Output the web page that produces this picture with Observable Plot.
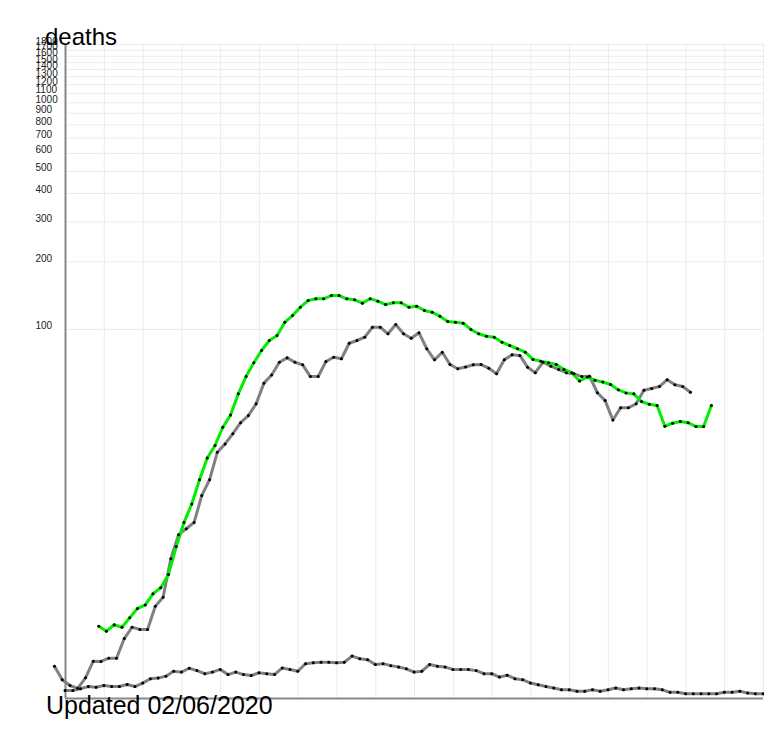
<!DOCTYPE html>
<html>
<head>
<meta charset="utf-8">
<script src="https://cdn.jsdelivr.net/npm/d3@7"></script>
<script src="https://cdn.jsdelivr.net/npm/@observablehq/plot@0.6"></script>
<style>
  html, body { margin: 0; padding: 0; background: #fff; }
  #chart { position: relative; width: 764px; height: 741px; }
</style>
</head>
<body>
<div id="chart"></div>
<script>
// y-axis tick labels
const yTicks = [100, 200, 300, 400, 500, 600, 700, 800, 900, 1000, 1100, 1200, 1300, 1400, 1500, 1600, 1700, 1800];

// series starting day (relative to the axis origin)
const seriesStart = { green: 4.28, greyA: -1.42, greyB: -0.05 };

// green series (daily values)
const greenValues = [
  2.67, 2.42, 2.75, 2.62, 3.13,
  3.68, 3.91, 4.67, 5.12, 6.21, 9.04, 12.2, 15.2, 20.1, 25.6,
  29.4, 35.8, 40.8, 51.1, 61.3, 70.8, 80.4, 89.2, 93.9, 107.7,
  115.4, 125.7, 134.6, 137.0, 137.0, 141.7, 141.7, 137.0, 135.6, 131.0,
  137.0, 133.7, 129.2, 131.5, 131.5, 125.7, 127.0, 121.5, 119.4, 114.6,
  108.5, 107.7, 106.6, 100.0, 95.6, 93.2, 92.3, 87.7, 84.7, 81.9,
  79.0, 73.3, 72.0, 70.8, 69.5, 66.0, 63.8, 58.5, 61.0, 59.0,
  57.9, 56.4, 53.3, 51.6, 51.1, 47.1, 45.8, 45.2, 36.2, 37.4,
  38.1, 37.6, 36.1, 36.1, 45.2
];

// first grey series
const greyAValues = [
  0.96, 0.52, 0.35, 0.27, 0.58, 1.14, 1.13, 1.25, 1.25, 2.07,
  2.62, 2.51, 2.51, 3.83, 4.43, 7.70, 10.5, 11.3, 12.2, 16.8,
  20.1, 27.3, 29.9, 33.4, 37.6, 40.6, 46.0, 57.2, 62.3, 71.2,
  74.5, 71.2, 69.3, 61.3, 61.3, 71.7, 75.0, 73.8, 86.7, 89.2,
  92.3, 102.3, 102.3, 95.6, 105.2, 95.6, 91.3, 96.6, 81.9, 73.0,
  79.0, 69.5, 66.5, 67.7, 69.3, 69.5, 66.9, 63.1, 73.0, 76.9,
  76.4, 67.6, 63.8, 71.2, 68.3, 66.0, 63.8, 63.1, 61.3, 61.5,
  51.7, 47.6, 38.7, 44.1, 44.1, 46.0, 53.1, 54.1, 55.2, 59.3,
  56.2, 55.2, 52.0
];

// second grey series (low values)
const greyBValues = [
  0.21, 0.21, 0.26, 0.32, 0.30, 0.35, 0.32, 0.32, 0.38, 0.32,
  0.42, 0.55, 0.57, 0.63, 0.79, 0.76, 0.89, 0.81, 0.71, 0.76,
  0.85, 0.68, 0.76, 0.68, 0.65, 0.74, 0.71, 0.68, 0.90, 0.85,
  0.79, 1.05, 1.08, 1.10, 1.10, 1.08, 1.10, 1.33, 1.23, 1.19,
  1.02, 1.05, 0.98, 0.93, 0.87, 0.76, 0.79, 1.02, 0.96, 0.93,
  0.85, 0.85, 0.85, 0.81, 0.71, 0.71, 0.60, 0.66, 0.55, 0.52,
  0.42, 0.37, 0.32, 0.28, 0.23, 0.23, 0.19, 0.19, 0.23, 0.19,
  0.23, 0.28, 0.23, 0.26, 0.28, 0.26, 0.26, 0.23, 0.16, 0.16,
  0.12, 0.12, 0.12, 0.12, 0.12, 0.16, 0.16, 0.19, 0.14, 0.12, 0.12
];

const toRows = (name, values) => values.map((v, i) => ({ series: name, day: seriesStart[name] + i, value: v }));
const green = toRows("green", greenValues);
const greyA = toRows("greyA", greyAValues);
const greyB = toRows("greyB", greyBValues);
const all = [...greyB, ...greyA, ...green];

const W = 764, H = 741;
const chart = Plot.plot({
  width: W,
  height: H,
  marginLeft: 65,
  marginRight: 1,
  marginTop: 44,
  marginBottom: 43,
  style: { fontFamily: "'Liberation Sans', Arial, sans-serif", background: "#fff" },
  x: { domain: [0, 90], axis: null },
  y: { type: "symlog", constant: 2.5, domain: [0, 1800], axis: null },
  marks: [
    Plot.gridX(d3.range(0, 91, 5), { stroke: "#ebebeb", strokeOpacity: 1 }),
    Plot.gridY(yTicks, { stroke: "#ebebeb", strokeOpacity: 1 }),
    Plot.ruleX([0], { stroke: "#888", strokeWidth: 2 }),
    Plot.ruleY([0], { stroke: "#888", strokeWidth: 2 }),
    Plot.text(yTicks, {
      y: d => d, text: d => String(d), frameAnchor: "left", dx: -30,
      textAnchor: "start", lineAnchor: "bottom", fontSize: 10, fill: "#222"
    }),
    Plot.line(greyB, { x: "day", y: "value", stroke: "#808080", strokeWidth: 3 }),
    Plot.line(greyA, { x: "day", y: "value", stroke: "#808080", strokeWidth: 3 }),
    Plot.line(green, { x: "day", y: "value", stroke: "#00ee00", strokeWidth: 3 }),
    Plot.dot(all, { x: "day", y: "value", r: 1.5, fill: "#000", stroke: "none" })
  ]
});

const svg = d3.select(chart);
svg.append("text")
  .attr("x", 45).attr("y", 45)
  .attr("text-anchor", "start")
  .attr("font-size", 24).attr("fill", "#000")
  .attr("font-family", "'Liberation Sans', Arial, sans-serif")
  .text("deaths");
svg.append("text")
  .attr("x", 46).attr("y", 714)
  .attr("text-anchor", "start")
  .attr("font-size", 25).attr("fill", "#000")
  .attr("font-family", "'Liberation Sans', Arial, sans-serif")
  .text("Updated 02/06/2020");

document.getElementById("chart").appendChild(chart);
</script>
</body>
</html>
